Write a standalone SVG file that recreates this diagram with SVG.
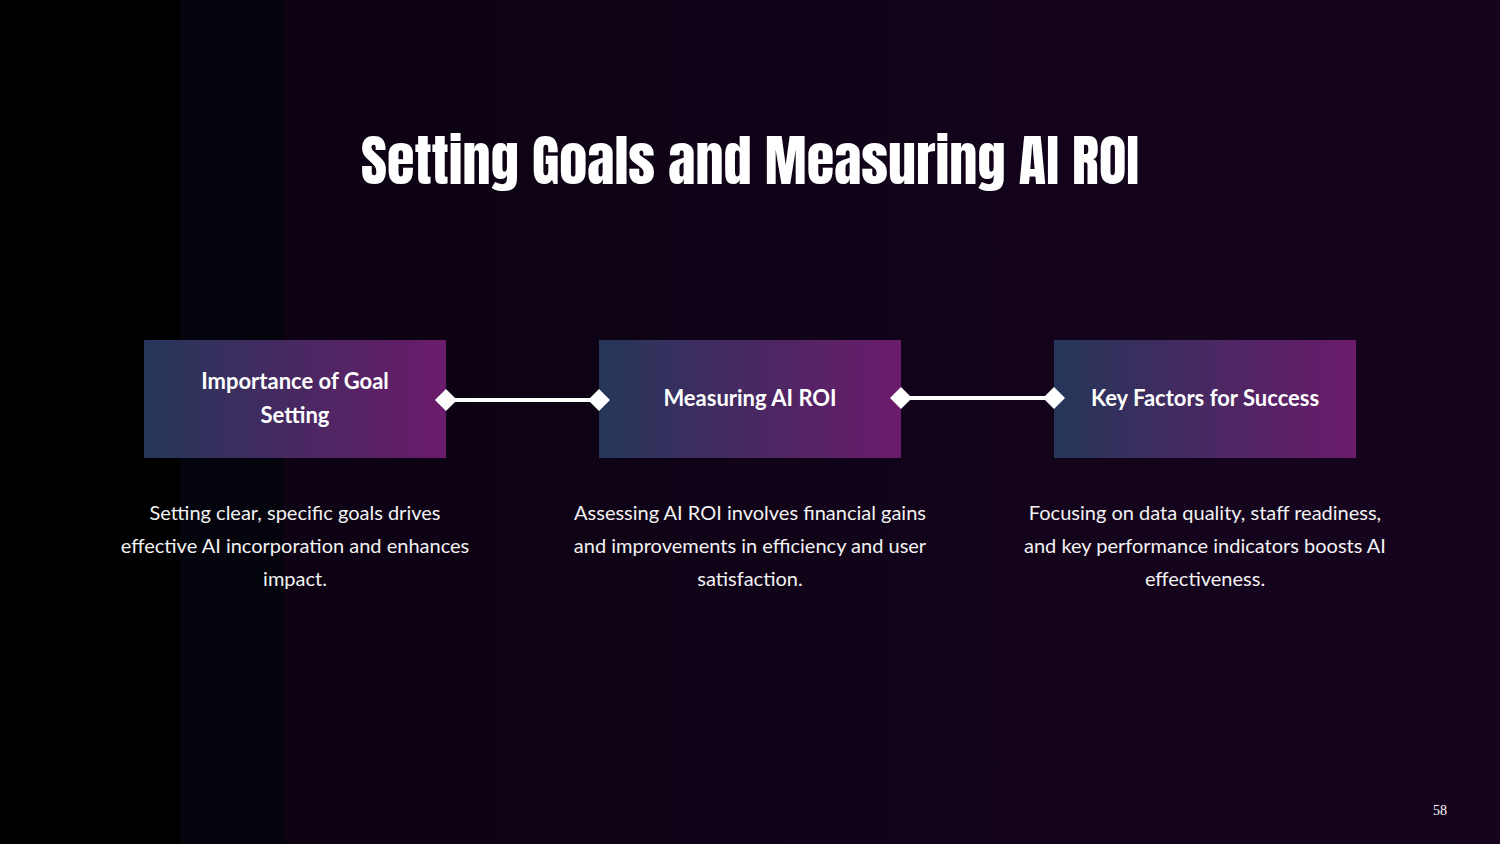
<svg xmlns="http://www.w3.org/2000/svg" width="1500" height="844" viewBox="0 0 1500 844">
<defs>
<linearGradient id="bg" x1="0" y1="0" x2="1" y2="0"><stop offset="0" stop-color="#0a0210"/><stop offset="1" stop-color="#16041f"/></linearGradient>
<linearGradient id="box" x1="0" y1="0" x2="1" y2="0"><stop offset="0" stop-color="#253659"/><stop offset="1" stop-color="#6b1b6b"/></linearGradient>
<style>
.h{font-family:Lato,"Open Sans",sans-serif;font-weight:bold;font-size:22px;fill:#fff;text-anchor:middle}
.b{font-family:Lato,"Open Sans",sans-serif;font-size:20px;fill:#f2f2f2;text-anchor:middle}
.ln{stroke:#fff;stroke-width:4}
.d{fill:#fff}
</style>
</defs>
<rect width="1500" height="844" fill="url(#bg)"/>
<rect x="180" width="103" height="844" fill="#04040d"/>
<rect width="180" height="844" fill="#000"/>
<text x="750" y="184" font-family="Anton,'DejaVu Sans Condensed','Liberation Sans',sans-serif" font-size="55" fill="#fff" text-anchor="middle" textLength="778" lengthAdjust="spacingAndGlyphs">Setting Goals and Measuring AI ROI</text>
<g id="n1"><rect x="144" y="340" width="302" height="118" fill="url(#box)"/>
<text class="h" x="295" y="389">Importance of Goal</text><text class="h" x="295" y="423">Setting</text>
<text class="b" x="295" y="520">Setting clear, specific goals drives</text><text class="b" x="295" y="553">effective AI incorporation and enhances</text><text class="b" x="295" y="586">impact.</text></g>
<g id="n2"><rect x="599" y="340" width="302" height="118" fill="url(#box)"/>
<text class="h" x="750" y="406">Measuring AI ROI</text>
<text class="b" x="750" y="520">Assessing AI ROI involves financial gains</text><text class="b" x="750" y="553">and improvements in efficiency and user</text><text class="b" x="750" y="586">satisfaction.</text></g>
<g id="n3"><rect x="1054" y="340" width="302" height="118" fill="url(#box)"/>
<text class="h" x="1205" y="406">Key Factors for Success</text>
<text class="b" x="1205" y="520">Focusing on data quality, staff readiness,</text><text class="b" x="1205" y="553">and key performance indicators boosts AI</text><text class="b" x="1205" y="586">effectiveness.</text></g>
<g id="connectors">
<line class="ln" x1="446" y1="400" x2="599" y2="400"/>
<path class="d" d="M435 400l11-11 11 11-11 11z"/>
<path class="d" d="M588 400l11-11 11 11-11 11z"/>
<line class="ln" x1="901" y1="398" x2="1054" y2="398"/>
<path class="d" d="M890 398l11-11 11 11-11 11z"/>
<path class="d" d="M1043 398l11-11 11 11-11 11z"/>
</g>
<text x="1440" y="815" font-family="'Liberation Serif',serif" font-size="14" fill="#fff" text-anchor="middle">58</text>
</svg>
